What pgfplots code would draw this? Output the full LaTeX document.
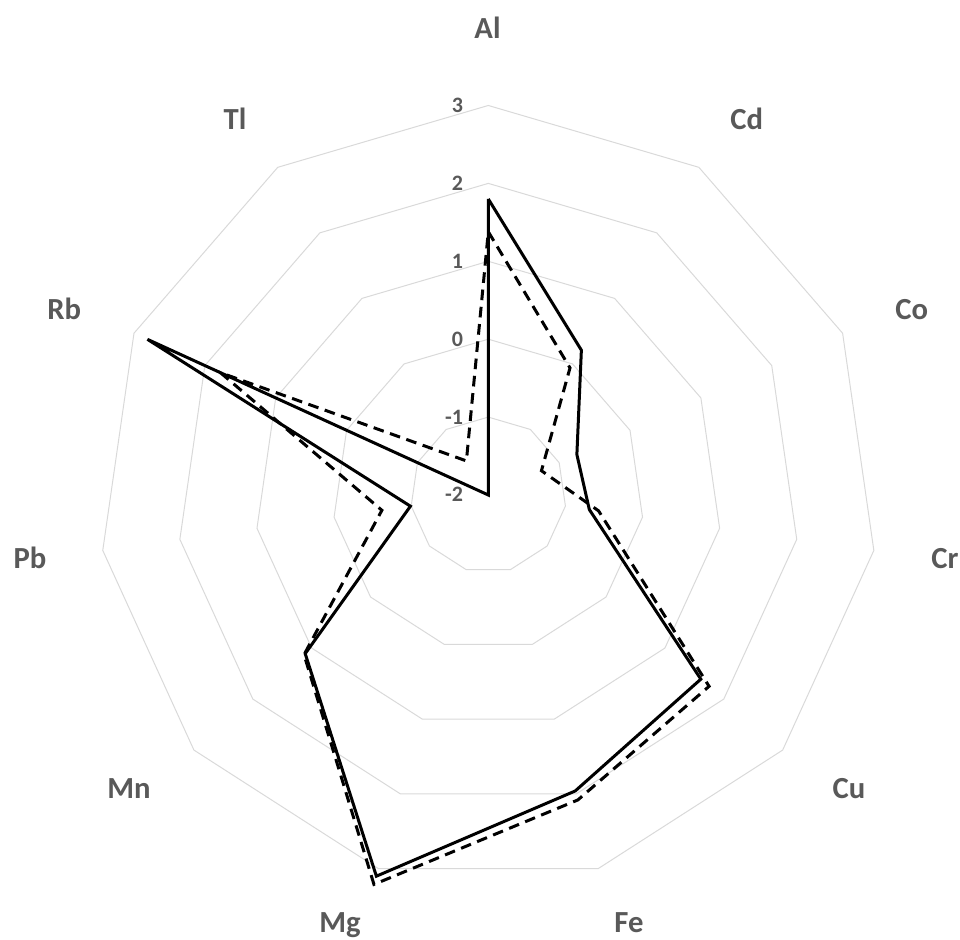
\documentclass[border=0pt]{standalone}
\usepackage{fontspec}
\setmainfont{Carlito}
\usepackage{pgfplots}
\usepackage{pgfplotstable}
\pgfplotsset{compat=1.18}
\definecolor{gridc}{HTML}{D9D9D9}
\definecolor{labc}{HTML}{595959}
\tikzset{
  cat/.style={text=labc, font=\fontsize{23}{27}\selectfont\bfseries, inner sep=0pt, text height=14.5pt, text depth=0pt, anchor=center},
  tk/.style={text=labc, font=\fontsize{16.5}{20}\selectfont\bfseries, inner sep=0pt, text height=10.4pt, text depth=0pt, anchor=east},
}

% angle (deg, counter-clockwise from x axis), solid series, dashed series
\pgfplotstableread{
el ang s d
Al 90 1.80 1.38
Cd 57.273 0.21 -0.06
Co 24.545 -0.75 -1.25
Cr -8.182 -0.69 -0.57
Cu -40.909 1.61 1.75
Fe -73.636 1.96 2.08
Mg -106.364 3.10 3.21
Mn -139.091 1.11 1.13
Pb -171.818 -0.99 -0.62
Rb -204.545 2.81 1.78
Tl -237.273 -2.00 -1.48
Al -270 1.80 1.38
}\data

\begin{document}
\begin{tikzpicture}
\begin{axis}[
  x=58.425pt, y=58.425pt,
  xmin=-6.268, xmax=6.055, ymin=-5.70, ymax=6.354,
  hide axis, clip=false,
]
% grid rings (values -1 .. 3, radius = value + 2)
\pgfplotsinvokeforeach{1,2,3,4,5}{
  \addplot[gridc, line width=0.75pt, data cs=polar] table[x=ang, y expr=#1] {\data};
}
% series
\addplot[black, line width=2.25pt, data cs=polar] table[x=ang, y expr=\thisrow{s}+2] {\data};
\addplot[black, line width=2.25pt, dash pattern=on 8pt off 5pt, data cs=polar] table[x=ang, y expr=\thisrow{d}+2] {\data};

% radial tick labels
\node[tk] at (axis cs:-0.32,0) {-2};
\node[tk] at (axis cs:-0.32,1) {-1};
\node[tk] at (axis cs:-0.32,2) {0};
\node[tk] at (axis cs:-0.32,3) {1};
\node[tk] at (axis cs:-0.32,4) {2};
\node[tk] at (axis cs:-0.32,5) {3};

% category labels
\node[cat] at (axis cs:-0.01,5.99) {Al};
\node[cat] at (axis cs:3.317,4.814) {Cd};
\node[cat] at (axis cs:5.435,2.375) {Co};
\node[cat] at (axis cs:5.863,-0.813) {Cr};
\node[cat] at (axis cs:4.630,-3.774) {Cu};
\node[cat] at (axis cs:1.806,-5.494) {Fe};
\node[cat] at (axis cs:-1.904,-5.494) {Mg};
\node[cat] at (axis cs:-4.612,-3.774) {Mn};
\node[cat] at (axis cs:-5.883,-0.813) {Pb};
\node[cat] at (axis cs:-5.443,2.375) {Rb};
\node[cat] at (axis cs:-3.252,4.814) {Tl};

\coordinate (ll) at (axis cs:-6.268,-5.70);
\coordinate (ur) at (axis cs:6.055,6.354);
\end{axis}
\pgfresetboundingbox
\path[use as bounding box] (ll) rectangle (ur);
\end{tikzpicture}
\end{document}
